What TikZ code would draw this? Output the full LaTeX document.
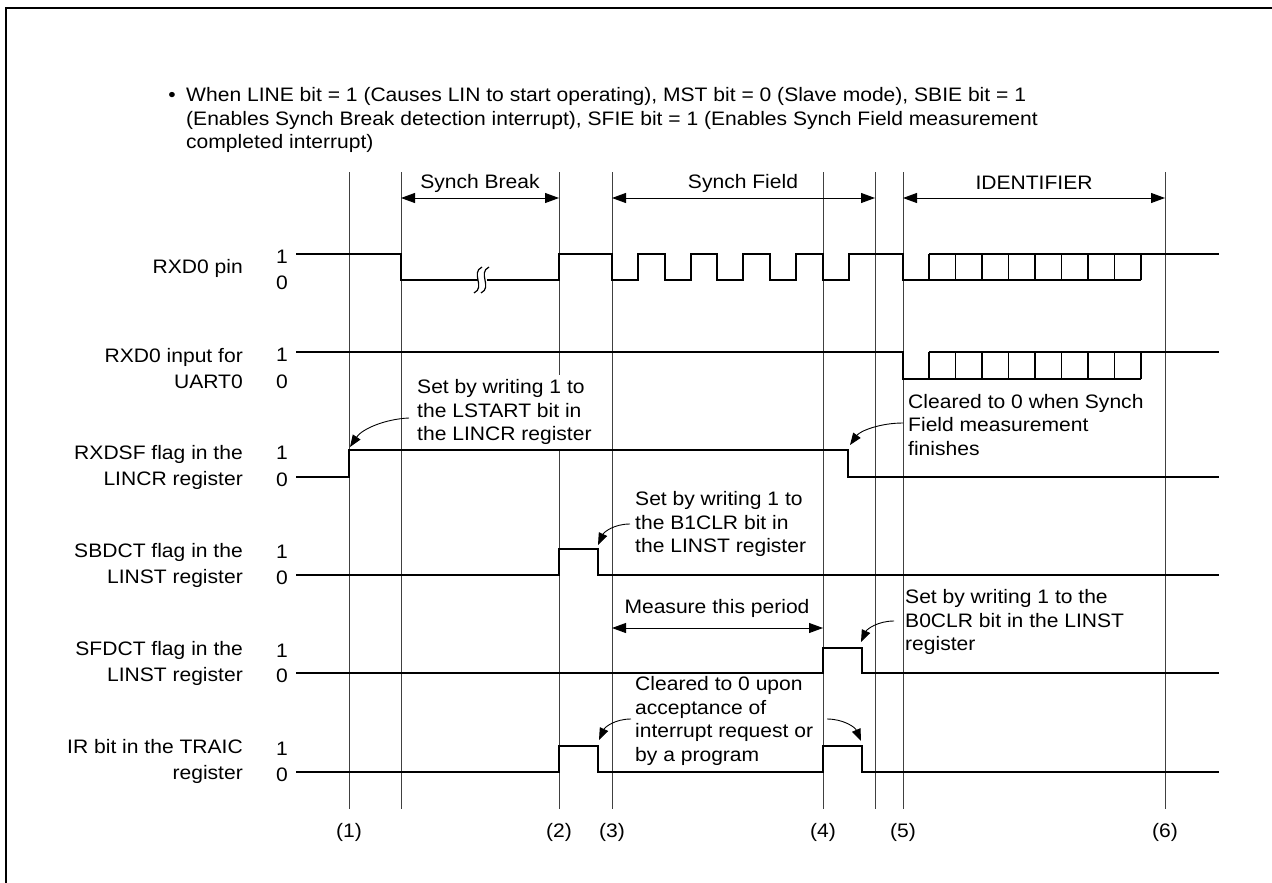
\documentclass[tikz,border=0pt]{standalone}
\usepackage{fontspec}
\setmainfont{Liberation Sans}[FakeStretch=1.08]
\usetikzlibrary{arrows.meta}
\newcommand{\figfont}{\fontsize{19.5}{23.5}\selectfont}
\newcommand{\labfont}{\fontsize{19.5}{26}\selectfont}
\begin{document}
\begin{tikzpicture}[x=1pt,y=-1pt,
  sig/.style={line width=1.9pt, line join=miter},
  gridline/.style={line width=0.9pt, black!75},
  txt/.style={inner sep=0pt, font=\figfont},
  lbl/.style={inner sep=0pt, font=\labfont, anchor=east, align=right},
  note/.style={inner sep=0pt, font=\figfont, anchor=west, align=left},
  dimarrow/.style={line width=0.9pt, {Triangle[length=14pt,width=10pt]}-{Triangle[length=14pt,width=10pt]}},
  callout/.style={line width=0.9pt, -{Triangle[length=12pt,width=9pt]}},
]
\useasboundingbox (0,0) rectangle (1272,883);
% frame
\draw[line width=2.7pt] (6,883) -- (6,8) -- (1272,8);

% title
\node[txt] (bullet) at (172,97) {•};
\node[note] (title) at (186,120) {When LINE bit = 1 (Causes LIN to start operating), MST bit = 0 (Slave mode), SBIE bit = 1\\(Enables Synch Break detection interrupt), SFIE bit = 1 (Enables Synch Field measurement\\completed interrupt)};

% grid lines
\foreach \x in {349,401,559,612,823,875,903,1165}
  \draw[gridline] (\x,172) -- (\x,809);

% header labels and dimension arrows
\node[txt] (sb) at (480,183) {Synch Break};
\node[txt] (sf) at (743,183) {Synch Field};
\node[txt] (id) at (1034,183) {IDENTIFIER};
\coordinate (sbL) at (401,198); \coordinate (sbR) at (559,198);
\coordinate (sfL) at (612,198); \coordinate (sfR) at (875,198);
\coordinate (idL) at (903,198); \coordinate (idR) at (1165,198);
\draw[dimarrow] (sbL) -- (sbR);
\draw[dimarrow] (sfL) -- (sfR);
\draw[dimarrow] (idL) -- (idR);

% left labels
\node[lbl] (n1) at (243,268) {RXD0 pin};
\node[lbl] (n2) at (243,369) {RXD0 input for\\UART0};
\node[lbl] (n3) at (243,467) {RXDSF flag in the\\LINCR register};
\node[lbl] (n4) at (243,565) {SBDCT flag in the\\LINST register};
\node[lbl] (n5) at (243,663) {SFDCT flag in the\\LINST register};
\node[lbl] (n6) at (243,761) {IR bit in the TRAIC\\register};

% level labels
\foreach \h/\l [count=\i] in {254/280,352/379,450/477,549/575,648/673,746/772}{
  \node[txt] (one\i) at (282,\h+3) {1};
  \node[txt] (zero\i) at (282,\l+3) {0};
}

% RXD0 pin
\draw[sig] (296,254) -- (401,254) -- (401,280) -- (559,280) -- (559,254) -- (612,254)
  -- (612,280) -- (638,280) -- (638,254) -- (665,254) -- (665,280) -- (691,280)
  -- (691,254) -- (717,254) -- (717,280) -- (743,280) -- (743,254) -- (770,254)
  -- (770,280) -- (796,280) -- (796,254) -- (823,254) -- (823,280) -- (849,280)
  -- (849,254) -- (903,254) -- (903,280) -- (1141,280);
\draw[sig] (929,254) -- (1219,254);
\foreach \x in {929,955.5,982,1008.5,1035,1061.5,1088,1114.5,1141}
  \draw[sig] (\x,254) -- (\x,280);
% break mark
\fill[white] (478,277) rectangle (487,283);
\draw[line width=1.2pt] (474,293) .. controls (486,287) and (470,273) .. (482,267);
\draw[line width=1.2pt] (481,293) .. controls (493,287) and (477,273) .. (489,267);

% RXD0 input for UART0
\draw[sig] (296,352) -- (903,352) -- (903,379) -- (1141,379);
\draw[sig] (929,352) -- (1219,352);
\foreach \x in {929,955.5,982,1008.5,1035,1061.5,1088,1114.5,1141}
  \draw[sig] (\x,352) -- (\x,379);

% RXDSF
\draw[sig] (296,477) -- (349,477) -- (349,450) -- (848,450) -- (848,477) -- (1219,477);
% SBDCT
\draw[sig] (296,575) -- (559,575) -- (559,549) -- (598,549) -- (598,575) -- (1219,575);
% SFDCT
\draw[sig] (296,673) -- (823,673) -- (823,648) -- (862,648) -- (862,673) -- (1219,673);
% IR
\draw[sig] (296,772) -- (559,772) -- (559,746) -- (598,746) -- (598,772) -- (823,772)
  -- (823,746) -- (862,746) -- (862,772) -- (1219,772);

% measure period
\node[txt] (meas) at (717,608) {Measure this period};
\coordinate (mL) at (612,628); \coordinate (mR) at (823,628);
\draw[dimarrow] (mL) -- (mR);

% annotations
\node[note, fill=white, inner ysep=4pt] (a1) at (417,412) {Set by writing 1 to\\the LSTART bit in\\the LINCR register};
\node[note] (a2) at (635,524) {Set by writing 1 to\\the B1CLR bit in\\the LINST register};
\node[note] (a3) at (905,622) {Set by writing 1 to the\\B0CLR bit in the LINST\\register};
\node[note] (a4) at (635,721) {Cleared to 0 upon\\acceptance of\\interrupt request or\\by a program};
\node[note] (a5) at (908,425) {Cleared to 0 when Synch\\Field measurement\\finishes};

\coordinate (s1) at (409,418); \coordinate (t1) at (350,447);
\draw[callout] (s1) .. controls (385,419) and (362,429) .. (t1);
\coordinate (s2) at (630,524); \coordinate (t2) at (598,545);
\draw[callout] (s2) .. controls (614,524) and (604,532) .. (t2);
\coordinate (s3) at (894,621); \coordinate (t3) at (861,642);
\draw[callout] (s3) .. controls (878,621) and (867,629) .. (t3);
\coordinate (s4) at (631,719); \coordinate (t4) at (599,740);
\draw[callout] (s4) .. controls (615,719) and (605,727) .. (t4);
\coordinate (s5) at (827,719); \coordinate (t5) at (861,741);
\draw[callout] (s5) .. controls (843,719) and (855,727) .. (t5);
\coordinate (s6) at (903,423); \coordinate (t6) at (850,445);
\draw[callout] (s6) .. controls (880,423) and (860,431) .. (t6);

% bottom labels
\node[txt] (b1) at (349,832) {(1)};
\node[txt] (b2) at (559,832) {(2)};
\node[txt] (b3) at (612,832) {(3)};
\node[txt] (b4) at (823,832) {(4)};
\node[txt] (b5) at (903,832) {(5)};
\node[txt] (b6) at (1165,832) {(6)};
\end{tikzpicture}
\end{document}
